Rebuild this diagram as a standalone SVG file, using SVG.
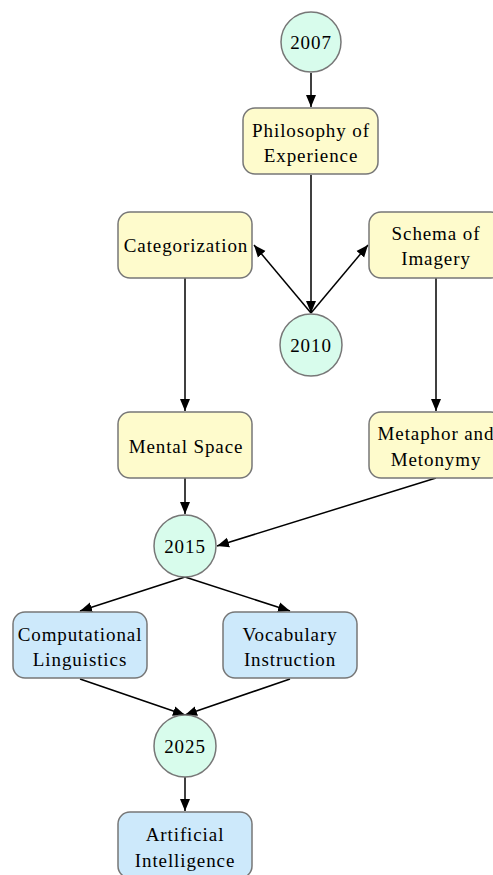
<svg xmlns="http://www.w3.org/2000/svg" width="493" height="875" viewBox="0 0 493 875">
<style>
.c{fill:#d8fcec;stroke:#777;stroke-width:1.5}
.y{fill:#fefbcc;stroke:#777;stroke-width:1.5}
.b{fill:#cde9fb;stroke:#777;stroke-width:1.5}
text{font-family:"Liberation Serif","Times New Roman",serif;font-size:19px;letter-spacing:0.9px;fill:#000;text-anchor:middle}
.e{stroke:#000;stroke-width:1.5;fill:none;marker-end:url(#a)}
</style>
<defs>
<marker id="a" markerWidth="12" markerHeight="12" refX="12" refY="6" orient="auto" markerUnits="userSpaceOnUse" viewBox="0 0 12 12">
<path d="M0,1 L12,6 L0,11 z" fill="#000"/>
</marker>
</defs>
<rect width="493" height="875" fill="#fff"/>
<g id="edges">
<line class="e" x1="311" y1="73" x2="311" y2="107"/>
<line class="e" x1="311" y1="175" x2="311" y2="313"/>
<line class="e" x1="311" y1="313" x2="254" y2="245"/>
<line class="e" x1="311" y1="313" x2="368" y2="245"/>
<line class="e" x1="185" y1="278" x2="185" y2="411"/>
<line class="e" x1="436" y1="278" x2="436" y2="411"/>
<line class="e" x1="185" y1="478" x2="185" y2="514"/>
<line class="e" x1="436" y1="478" x2="217" y2="546"/>
<line class="e" x1="185" y1="577" x2="80" y2="611"/>
<line class="e" x1="185" y1="577" x2="290" y2="611"/>
<line class="e" x1="80" y1="679" x2="185" y2="715"/>
<line class="e" x1="290" y1="679" x2="185" y2="715"/>
<line class="e" x1="185" y1="777" x2="185" y2="811"/>
</g>
<g id="n2007"><circle class="c" cx="311" cy="42" r="30"/><text x="311" y="49">2007</text></g>
<g id="nPhil"><rect class="y" x="243" y="108" width="135" height="66" rx="12"/><text x="311" y="137">Philosophy of</text><text x="311" y="162">Experience</text></g>
<g id="nCat"><rect class="y" x="118" y="212" width="134" height="66" rx="12"/><text x="186" y="252">Categorization</text></g>
<g id="nSchema"><rect class="y" x="369" y="212" width="134" height="66" rx="12"/><text x="436" y="240">Schema of</text><text x="436" y="265">Imagery</text></g>
<g id="n2010"><circle class="c" cx="311" cy="345" r="31"/><text x="311" y="352">2010</text></g>
<g id="nMental"><rect class="y" x="118" y="412" width="134" height="66" rx="12"/><text x="186" y="453">Mental Space</text></g>
<g id="nMeta"><rect class="y" x="369" y="412" width="134" height="66" rx="12"/><text x="436" y="440">Metaphor and</text><text x="436" y="466">Metonymy</text></g>
<g id="n2015"><circle class="c" cx="185" cy="546" r="31"/><text x="185" y="553">2015</text></g>
<g id="nComp"><rect class="b" x="13" y="612" width="134" height="66" rx="12"/><text x="80" y="641">Computational</text><text x="80" y="666">Linguistics</text></g>
<g id="nVocab"><rect class="b" x="223" y="612" width="134" height="66" rx="12"/><text x="290" y="641">Vocabulary</text><text x="290" y="666">Instruction</text></g>
<g id="n2025"><circle class="c" cx="185" cy="746" r="31"/><text x="185" y="753">2025</text></g>
<g id="nAI"><rect class="b" x="118" y="812" width="134" height="66" rx="12"/><text x="185" y="841">Artificial</text><text x="185" y="867">Intelligence</text></g>
</svg>
